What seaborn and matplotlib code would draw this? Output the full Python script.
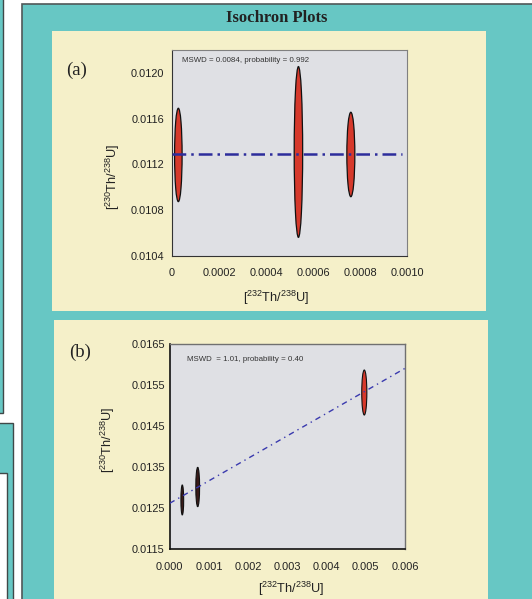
import matplotlib
matplotlib.use("Agg")
import matplotlib.pyplot as plt
from matplotlib.patches import Ellipse, Rectangle
import numpy as np
import seaborn as sns

sns.set_style("white")
plt.rcParams["font.family"] = ["Liberation Sans", "DejaVu Sans"]
plt.rcParams["mathtext.default"] = "regular"

# panel (a): 232Th/238U vs 230Th/238U with half-axis errors
a_x = [0.000027, 0.000538, 0.000761]
a_y = [0.011283, 0.011309, 0.011287]
a_ex = [0.000016, 0.000018, 0.000017]
a_ey = [0.000408, 0.000746, 0.000369]
a_fit_x = [0.0, 0.00098]
a_fit_int, a_fit_slope = 0.011292, 0.0
a_xticks = [0, 0.0002, 0.0004, 0.0006, 0.0008, 0.0010]
a_xticklabels = ["0", "0.0002", "0.0004", "0.0006", "0.0008", "0.0010"]
a_yticks = [0.0104, 0.0108, 0.0112, 0.0116, 0.0120]
a_yticklabels = ["0.0104", "0.0108", "0.0112", "0.0116", "0.0120"]
a_note = "MSWD = 0.0084, probability = 0.992"

# panel (b)
b_x = [0.000321, 0.000714, 0.004962]
b_y = [0.01270, 0.013015, 0.015313]
b_ex = [0.000035, 0.000048, 0.000065]
b_ey = [0.000365, 0.000479, 0.000547]
b_fit_x = [0.0, 0.006]
b_fit_int, b_fit_slope = 0.012619, 0.547
b_xticks = [0, 0.001, 0.002, 0.003, 0.004, 0.005, 0.006]
b_xticklabels = ["0.000", "0.001", "0.002", "0.003", "0.004", "0.005", "0.006"]
b_yticks = [0.0115, 0.0125, 0.0135, 0.0145, 0.0155, 0.0165]
b_yticklabels = ["0.0115", "0.0125", "0.0135", "0.0145", "0.0155", "0.0165"]
b_note = "MSWD  = 1.01, probability = 0.40"

xlab = r"[$^{232}$Th/$^{238}$U]"
ylab = r"[$^{230}$Th/$^{238}$U]"

W, H = 532, 599
TEAL = "#67c7c4"
CREAM = "#f5f0c9"
GREY = "#dfe0e4"
RED = "#d6392b"
BLUE = "#2d2d9c"

fig = plt.figure(figsize=(W / 100, H / 100), dpi=100)
fig.patch.set_facecolor("white")


def box(x0, y0, x1, y1, fc, ec="none", lw=0.0):
    # pixel box (top-left origin) -> figure fraction
    r = Rectangle((x0 / W, 1 - y1 / H), (x1 - x0) / W, (y1 - y0) / H,
                  transform=fig.transFigure, facecolor=fc, edgecolor=ec,
                  lw=lw, zorder=0)
    fig.add_artist(r)


def axes_px(x0, y0, x1, y1):
    return fig.add_axes([x0 / W, 1 - y1 / H, (x1 - x0) / W, (y1 - y0) / H])


# slide background fragments
box(-10, -10, 2.5, 413, TEAL, "#404848", 1.0)
box(-10, 423, 12.5, 610, TEAL, "#404848", 1.0)
box(-10, 473, 6.5, 610, "white", "#404848", 1.0)
box(21.5, 3.5, 545, 610, TEAL, "#505858", 1.2)
box(52, 31, 486, 311, CREAM)
box(54, 320, 488, 610, CREAM)

fig.text(277 / W, 1 - 18 / H, "Isochron Plots", family="Liberation Serif",
         weight="bold", fontsize=12, ha="center", va="center", color="#222222")
fig.text(77 / W, 1 - 70 / H, "(a)", family="Liberation Serif", fontsize=13.5,
         ha="center", va="center", color="#222222")
fig.text(80.5 / W, 1 - 352 / H, "(b)", family="Liberation Serif", fontsize=13.5,
         ha="center", va="center", color="#222222")

# ---- panel (a)
ax = axes_px(172, 50, 407, 256)
ax.set_facecolor(GREY)
for x, y, ex, ey in zip(a_x, a_y, a_ex, a_ey):
    ax.add_patch(Ellipse((x, y), 2 * ex, 2 * ey, facecolor=RED,
                         edgecolor="#111111", lw=0.9, zorder=2))
fx = np.array(a_fit_x)
sns.lineplot(x=fx, y=a_fit_int + a_fit_slope * fx, ax=ax, color=BLUE, lw=1.8,
             linestyle=(0, (5.5, 2, 1, 2)), zorder=3)
ax.set_xlim(0, 0.0010)
ax.set_ylim(0.0104, 0.0122)
ax.set_xticks(a_xticks)
ax.set_xticklabels(a_xticklabels)
ax.set_yticks(a_yticks)
ax.set_yticklabels(a_yticklabels)
ax.tick_params(axis="both", direction="out", length=3, width=0.9,
               colors="#222222", labelsize=7.9, labelcolor="#222222")
ax.tick_params(axis="x", pad=5.5)
ax.tick_params(axis="y", pad=2.5)
for s in ax.spines.values():
    s.set_color("#808080")
    s.set_linewidth(0.8)
ax.spines["left"].set_color("#333333")
ax.spines["bottom"].set_color("#333333")
ax.text(0.043, 0.947, a_note, transform=ax.transAxes, fontsize=5.7,
        color="#333333", va="center")
ax.set_xlabel(xlab, fontsize=9.2, color="#222222", va="center")
ax.xaxis.set_label_coords(0.443, -(298 - 256) / 206)
ax.set_ylabel(ylab, fontsize=9.2, color="#222222", va="center")
ax.yaxis.set_label_coords((113 - 172) / 235, (256 - 176.5) / 206)

# ---- panel (b)
bx = axes_px(169.7, 343.7, 405, 549.3)
bx.set_facecolor(GREY)
for i, (x, y, ex, ey) in enumerate(zip(b_x, b_y, b_ex, b_ey)):
    bx.add_patch(Ellipse((x, y), 2 * ex, 2 * ey,
                         facecolor=RED if i == 2 else "#3a1a18",
                         edgecolor="#111111", lw=0.8, zorder=2))
fx = np.array(b_fit_x)
sns.lineplot(x=fx, y=b_fit_int + b_fit_slope * fx, ax=bx, color="#3a3aae",
             lw=1.0, linestyle=(0, (4, 3, 1, 3)), zorder=3)
bx.set_xlim(0, 0.006)
bx.set_ylim(0.0115, 0.0165)
bx.set_xticks(b_xticks)
bx.set_xticklabels(b_xticklabels)
bx.set_yticks(b_yticks)
bx.set_yticklabels(b_yticklabels)
bx.tick_params(axis="both", direction="inout", length=6, width=1.0,
               colors="#111111", labelsize=7.9, labelcolor="#222222")
bx.tick_params(axis="x", pad=6.5)
bx.tick_params(axis="y", pad=0.5)
for s in bx.spines.values():
    s.set_color("#707070")
    s.set_linewidth(1.0)
bx.spines["left"].set_color("#111111")
bx.spines["bottom"].set_color("#111111")
bx.spines["left"].set_linewidth(1.2)
bx.spines["bottom"].set_linewidth(1.2)
bx.text(0.072, 0.921, b_note, transform=bx.transAxes, fontsize=5.7,
        color="#333333", va="center")
bx.set_xlabel(xlab, fontsize=9.2, color="#222222", va="center")
bx.xaxis.set_label_coords(0.518, -(589 - 549.3) / 205.6)
bx.set_ylabel(ylab, fontsize=9.2, color="#222222", va="center")
bx.yaxis.set_label_coords((108 - 169.7) / 235.3, (549.3 - 440) / 205.6)

fig.savefig("out.png", dpi=100)
